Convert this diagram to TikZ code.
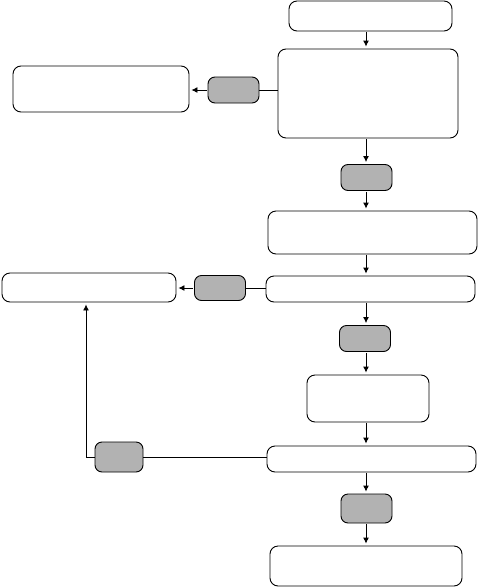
\documentclass[tikz,border=0pt]{standalone}
\usetikzlibrary{arrows.meta,positioning}

\begin{document}
\begin{tikzpicture}[
  x=1pt,y=-1pt,
  line width=.9pt,
  box/.style={draw,rounded corners=8pt,fill=white,inner sep=0pt},
  tag/.style={draw,rounded corners=7pt,fill=black!30,minimum width=51pt,minimum height=26pt,inner sep=0pt},
  link/.style={-{Latex[length=6pt,width=6pt]},shorten <=1pt,shorten >=2pt}
]
  \useasboundingbox (0,0) rectangle (478,587);
  \coordinate (col) at (366,0);

  % main column
  \node[box,minimum width=163pt,minimum height=30pt] (intake) at (370.5,16) {};
  \node[box,minimum width=180pt,minimum height=89pt] (assess) at (368,93.5) {};
  \node[tag] (gate2) at (366.5,177.5) {};
  \node[box,minimum width=209pt,minimum height=43pt] (plan) at (372.5,232.5) {};
  \node[box,minimum width=209pt,minimum height=26pt] (act) at (370.5,289) {};
  \node[tag] (gate4) at (365,338.5) {};
  \node[box,minimum width=122pt,minimum height=47pt] (check) at (368,398.5) {};
  \node[box,minimum width=209pt,minimum height=26pt] (review) at (371.5,459) {};
  \node[tag,minimum height=29pt] (gate6) at (366.5,508.5) {};
  \node[box,minimum width=192pt,minimum height=40pt] (finish) at (366,566) {};

  % side branches
  \node[tag] (gate1) at (233.5,90) {};
  \node[box,minimum width=176pt,minimum height=46pt] (refer) at (101,89) {};
  \node[tag,minimum height=25pt] (gate3) at (220,288) {};
  \node[box,minimum width=174pt,minimum height=29pt] (hold) at (89,287.5) {};
  \node[tag,minimum width=48pt,minimum height=30pt] (gate5) at (119,457) {};

  \draw[link] (intake.south -| col) -- (assess.north -| col);
  \draw[link] (assess.south -| col) -- (gate2.north -| col);
  \draw[link] (gate2.south -| col) -- (plan.north -| col);
  \draw[link] (plan.south -| col) -- (act.north -| col);
  \draw[link] (act.south -| col) -- (gate4.north -| col);
  \draw[link] (gate4.south -| col) -- (check.north -| col);
  \draw[link] (check.south -| col) -- (review.north -| col);
  \draw[link] (review.south -| col) -- (gate6.north -| col);
  \draw[link] (gate6.south -| col) -- (finish.north -| col);

  \draw (assess.west |- gate1) -- (gate1.east);
  \draw[link] (gate1.west) -- (refer.east |- gate1);
  \draw (act.west |- gate3) -- (gate3.east);
  \draw[link] (gate3.west) -- (hold.east |- gate3);
  \draw (review.west |- gate5) -- (gate5.east);
  \draw[link,shorten <=0pt] (gate5.west) -| ([xshift=-3pt]hold.south);
\end{tikzpicture}
\end{document}
